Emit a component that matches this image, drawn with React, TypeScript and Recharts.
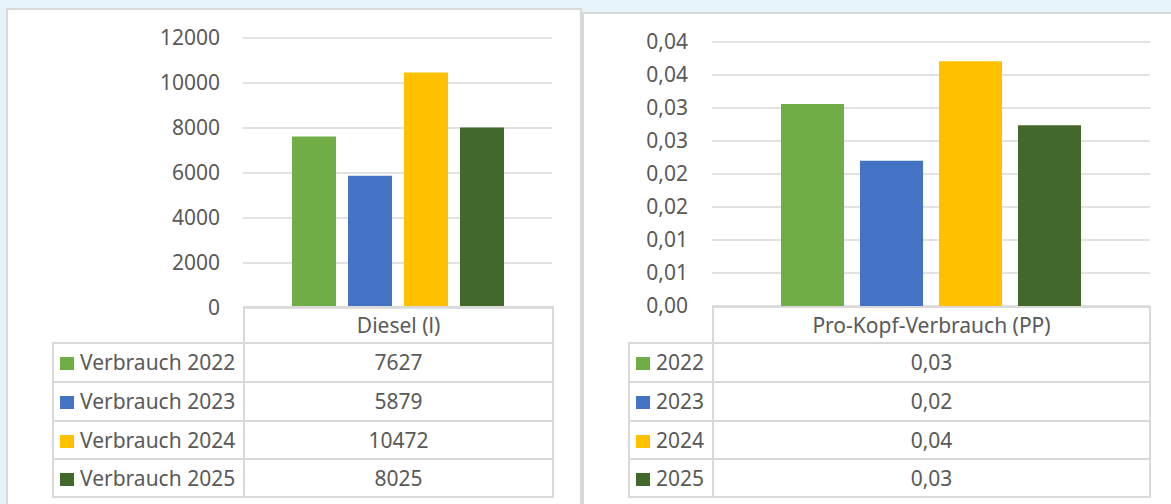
import React from 'react';
import { BarChart, Bar, CartesianGrid, XAxis, YAxis } from 'recharts';

// ─── Daten ───
const years = ['2022', '2023', '2024', '2025'];
const barColors = ['#70AD47', '#4472C4', '#FFC000', '#43682B'];

const dieselLabel = 'Diesel (l)';
const dieselLiters = [7627, 5879, 10472, 8025];
const dieselTicks = [0, 2000, 4000, 6000, 8000, 10000, 12000];

const perCapitaLabel = 'Pro-Kopf-Verbrauch (PP)';
const perCapita = [0.0306, 0.022, 0.0371, 0.0274];
const perCapitaText = ['0,03', '0,02', '0,04', '0,03'];
const perCapitaTicks = [0, 0.005, 0.01, 0.015, 0.02, 0.025, 0.03, 0.035, 0.04];
const perCapitaTickLabels = ['0,00', '0,01', '0,01', '0,02', '0,02', '0,03', '0,03', '0,04', '0,04'];

const FONT = '"Noto Sans", "Open Sans", sans-serif';
const TEXT = '#595959';
const GRID = '#D9D9D9';
const FS = 21;

const toRow = (label: string, values: number[]) => {
  const row: Record<string, string | number> = { name: label };
  years.forEach((y, i) => {
    row['y' + y] = values[i];
  });
  return [row];
};

interface TableProps {
  left: number;
  top: number;
  labelWidth: number;
  valueWidth: number;
  header: string;
  labels: string[];
  values: string[];
}

const rowHeights = [36, 39, 39, 38, 38];

const DataTable: React.FC<TableProps> = ({ left, top, labelWidth, valueWidth, header, labels, values }) => {
  const cell: React.CSSProperties = {
    border: `2px solid ${GRID}`,
    padding: 0,
    color: TEXT,
    fontSize: FS,
    fontFamily: FONT,
    textAlign: 'center',
    verticalAlign: 'middle',
    lineHeight: 1,
  };
  return (
    <table
      style={{
        position: 'absolute',
        left,
        top,
        borderCollapse: 'collapse',
        tableLayout: 'fixed',
        width: labelWidth + valueWidth,
      }}
    >
      <colgroup>
        <col style={{ width: labelWidth }} />
        <col style={{ width: valueWidth }} />
      </colgroup>
      <tbody>
        <tr style={{ height: rowHeights[0] }}>
          <td style={{ border: 'none' }} />
          <td style={cell}>{header}</td>
        </tr>
        {labels.map((lab, i) => (
          <tr key={lab} style={{ height: rowHeights[i + 1] }}>
            <td style={{ ...cell, textAlign: 'left', paddingLeft: 6, whiteSpace: 'nowrap' }}>
              <span
                style={{
                  display: 'inline-block',
                  width: 14,
                  height: 13,
                  background: barColors[i],
                  marginRight: 6,
                  verticalAlign: '0px',
                }}
              />
              {lab}
            </td>
            <td style={cell}>{values[i]}</td>
          </tr>
        ))}
      </tbody>
    </table>
  );
};

export default function App() {
  const dieselData = toRow(dieselLabel, dieselLiters);
  const perCapitaData = toRow(perCapitaLabel, perCapita);

  return (
    <div
      style={{
        position: 'absolute',
        left: 0,
        top: 0,
        width: 1171,
        height: 504,
        overflow: 'hidden',
        background: '#E6F4FA',
        fontFamily: FONT,
      }}
    >
      {/* ─── linkes Feld ─── */}
      <div
        style={{
          position: 'absolute',
          left: 6,
          top: 8,
          width: 572,
          height: 520,
          background: '#FFFFFF',
          border: `2px solid ${GRID}`,
        }}
      />
      {/* ─── rechtes Feld ─── */}
      <div
        style={{
          position: 'absolute',
          left: 582,
          top: 12,
          width: 600,
          height: 520,
          background: '#FFFFFF',
          border: `2px solid ${GRID}`,
        }}
      />

      <div style={{ position: 'absolute', left: 0, top: 0 }}>
        <BarChart
          width={580}
          height={320}
          data={dieselData}
          margin={{ top: 38, right: 28, bottom: 12, left: 0 }}
          barGap={12}
          barSize={44}
        >
          <CartesianGrid vertical={false} stroke={GRID} strokeWidth={1.5} />
          <XAxis dataKey="name" hide />
          <YAxis
            width={243}
            domain={[0, 12000]}
            ticks={dieselTicks}
            interval={0}
            axisLine={false}
            tickLine={false}
            tickSize={0}
            tickMargin={23}
            tick={{ fill: TEXT, fontSize: FS, fontFamily: FONT }}
          />
          {years.map((y, i) => (
            <Bar key={y} dataKey={'y' + y} fill={barColors[i]} isAnimationActive={false} />
          ))}
        </BarChart>
      </div>

      <div style={{ position: 'absolute', left: 582, top: 0 }}>
        <BarChart
          width={589}
          height={320}
          data={perCapitaData}
          margin={{ top: 42, right: 21, bottom: 14, left: 0 }}
          barGap={16}
          barSize={63}
        >
          <CartesianGrid vertical={false} stroke={GRID} strokeWidth={1.5} />
          <XAxis dataKey="name" hide />
          <YAxis
            width={130}
            domain={[0, 0.04]}
            ticks={perCapitaTicks}
            interval={0}
            axisLine={false}
            tickLine={false}
            tickSize={0}
            tickMargin={24}
            tickFormatter={(_v: number, i: number) => perCapitaTickLabels[i]}
            tick={{ fill: TEXT, fontSize: FS, fontFamily: FONT }}
          />
          {years.map((y, i) => (
            <Bar key={y} dataKey={'y' + y} fill={barColors[i]} isAnimationActive={false} />
          ))}
        </BarChart>
      </div>

      <DataTable
        left={52}
        top={306}
        labelWidth={191}
        valueWidth={309}
        header={dieselLabel}
        labels={years.map((y) => 'Verbrauch ' + y)}
        values={dieselLiters.map((v) => String(v))}
      />
      <DataTable
        left={628}
        top={306}
        labelWidth={84}
        valueWidth={437}
        header={perCapitaLabel}
        labels={years}
        values={perCapitaText}
      />
    </div>
  );
}
